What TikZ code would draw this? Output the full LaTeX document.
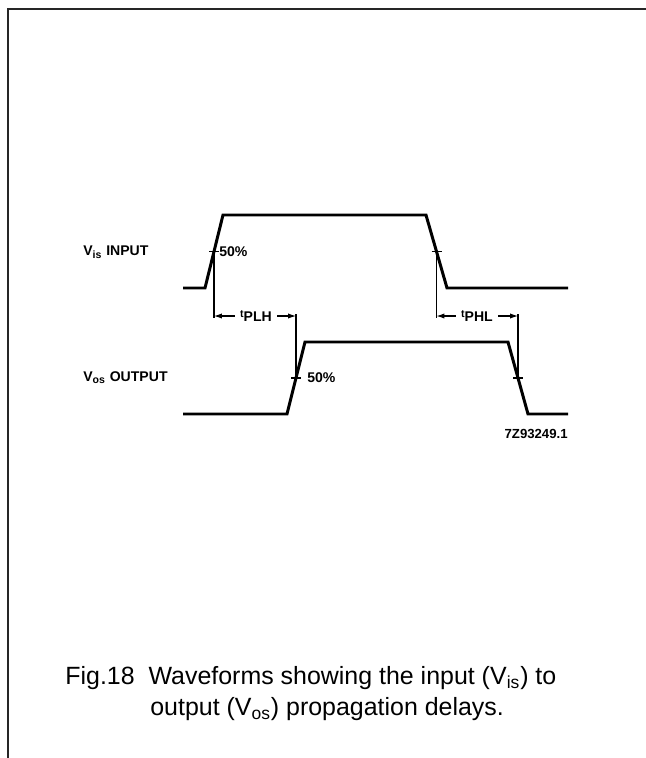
\documentclass[tikz,border=0pt]{standalone}
\usepackage{fontspec}
\setmainfont{Liberation Sans}
\usepackage{tikz}
\usetikzlibrary{calc,arrows.meta}
\tikzset{
  frameline/.style={draw=black!85, line width=1.1pt},
  wave/.style={draw=black, line width=1.7pt, line join=miter},
  refline/.style={draw=black, line width=0.6pt},
  tickline/.style={draw=black, line width=0.9pt},
  dimarrow/.style={draw=black, line width=0.6pt, -{Latex[length=4.5pt,width=3pt]}},
  lab/.style={font=\fontsize{8}{9}\selectfont\bfseries, inner sep=0pt},
  dimlab/.style={font=\fontsize{8}{9}\selectfont\bfseries, inner sep=3pt},
  caption/.style={font=\fontsize{14.2}{17}\selectfont, inner sep=0pt, anchor=west},
}

\begin{document}
\begin{tikzpicture}[x=0.02cm,y=-0.02cm]
  \useasboundingbox (0,0) rectangle (646,758);

  % frame (top and left edges)
  \draw[frameline] (8,758) -- (8,9) -- (646,9);

  % input waveform
  \coordinate (I0) at (183,288);
  \coordinate (I1) at (205,288);
  \coordinate (I2) at (223,215);
  \coordinate (I3) at (426,215);
  \coordinate (I4) at (447,288);
  \coordinate (I5) at (568,288);
  \draw[wave] (I0)--(I1)--(I2)--(I3)--(I4)--(I5);

  % output waveform
  \coordinate (O0) at (183,414);
  \coordinate (O1) at (287,414);
  \coordinate (O2) at (305,342);
  \coordinate (O3) at (508,342);
  \coordinate (O4) at (528,414);
  \coordinate (O5) at (568,414);
  \draw[wave] (O0)--(O1)--(O2)--(O3)--(O4)--(O5);

  % 50% points on the edges
  \coordinate (Ir) at ($(I1)!0.5!(I2)$);
  \coordinate (If) at ($(I3)!0.5!(I4)$);
  \coordinate (Or) at ($(O1)!0.5!(O2)$);
  \coordinate (Of) at ($(O3)!0.5!(O4)$);
  \coordinate (dim) at (0,316);

  % ticks
  \foreach \p in {Ir,If,Or,Of}
    \draw[tickline] (\p) ++(-5,0) -- ++(10,0);

  % reference lines
  \draw[refline] (Ir) -- ($(Ir |- dim)+(0,2)$);
  \draw[refline] (If) -- ($(If |- dim)+(0,2)$);
  \draw[refline] (Or) -- ($(Or |- dim)+(0,-2)$);
  \draw[refline] (Of) -- ($(Of |- dim)+(0,-2)$);

  % delay labels and arrows
  \node[dimlab] (tplh) at (256,316) {{\fontsize{6}{6}\selectfont\raisebox{2pt}{t}}PLH};
  \node[dimlab] (tphl) at (477,316) {{\fontsize{6}{6}\selectfont\raisebox{2pt}{t}}PHL};
  \draw[dimarrow] (tplh.west) -- (Ir |- tplh);
  \draw[dimarrow] (tplh.east) -- (Or |- tplh);
  \draw[dimarrow] (tphl.west) -- (If |- tphl);
  \draw[dimarrow] (tphl.east) -- (Of |- tphl);

  % signal names
  \node[lab,anchor=west] (vis) at (83,252) {V\textsubscript{is} INPUT};
  \node[lab,anchor=west] (vos) at (83,378) {V\textsubscript{os} OUTPUT};
  \node[lab,anchor=west] (pin) at (219,252) {50\%};
  \node[lab,anchor=west] (pout) at (307,378) {50\%};
  \node[lab,anchor=east,font=\fontsize{7.5}{9}\selectfont\bfseries] (code) at (568,434) {7Z93249.1};

  % caption
  \node[caption] (cap1) at (65,678) {Fig.18\ \ Waveforms showing the input (V\textsubscript{is}) to};
  \node[caption] (cap2) at (150,709) {output (V\textsubscript{os}) propagation delays.};
\end{tikzpicture}
\end{document}
